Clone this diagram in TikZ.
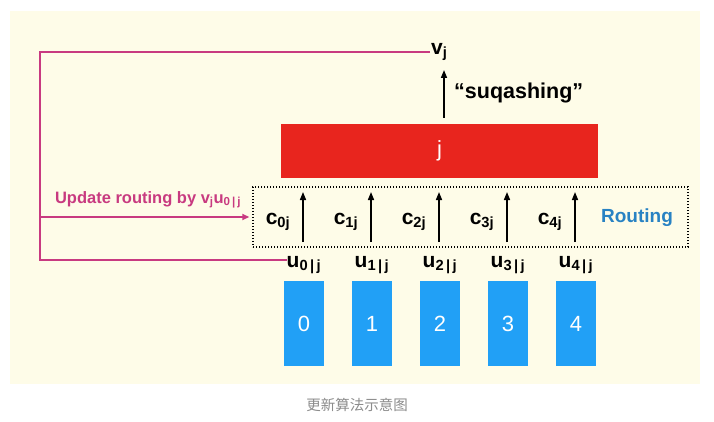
\documentclass[tikz,border=0pt]{standalone}
\usepackage{fontspec}
\setmainfont{Liberation Sans}
\newfontfamily\cjk{Noto Sans CJK SC}
\usetikzlibrary{arrows.meta}

\definecolor{cream}{RGB}{254,252,232}
\definecolor{fbpink}{RGB}{200,58,128}
\definecolor{jred}{RGB}{232,37,30}
\definecolor{capblue}{RGB}{33,160,246}
\definecolor{rtblue}{RGB}{40,130,195}

\tikzset{
  lbl/.style={font=\bfseries\fontsize{21}{21}\selectfont, inner sep=0pt},
  uparrow/.style={line width=1.5pt, -{Triangle[width=6pt,length=8pt]}},
  fb/.style={draw=fbpink, line width=1.6pt},
  capsbox/.style={fill=capblue, minimum width=40pt, minimum height=85pt,
    inner sep=0pt, text=white, font=\fontsize{22}{22}\selectfont},
}

\begin{document}
\begin{tikzpicture}[x=1pt,y=-1pt]
  \useasboundingbox (0,0) rectangle (714,422);
  \fill[white] (0,0) rectangle (714,422);
  \fill[cream] (10,11) rectangle (700,384);

  % capsule j and routing box
  \node[fill=jred, minimum width=317pt, minimum height=54pt, inner sep=0pt,
    text=white, font=\fontsize{22}{22}\selectfont] (jbox) at (439.5,151) {j};
  \node[draw, line width=1.4pt, dash pattern=on 1.4pt off 1.6pt,
    minimum width=435pt, minimum height=60pt, inner sep=0pt] (route) at (470.5,217) {};
  \node[font=\bfseries\fontsize{19}{19}\selectfont, text=rtblue, inner sep=0pt]
    (rtxt) at (637,218) {Routing};

  % lower capsules, predictions and coupling coefficients
  \foreach \i in {0,...,4} {
    \node[capsbox] (blk\i) at (304+68*\i,323.5) {\i};
    \node[lbl] (u\i) at (304+68*\i,265) {u\textsubscript{\i\,|\,j}};
    \coordinate (cb\i) at (303+68*\i,242);
    \coordinate (ct\i) at (303+68*\i,192);
    \draw[uparrow] (cb\i) -- (ct\i);
    \node[lbl] (c\i) at (278+68*\i,222) {c\textsubscript{\i j}};
  }

  % squashing
  \coordinate (sqb) at (444,118);
  \coordinate (sqt) at (444,70);
  \draw[uparrow] (sqb) -- (sqt);
  \node[font=\bfseries\fontsize{21.5}{21.5}\selectfont, anchor=west, inner sep=0pt]
    (sqtxt) at (454,93) {“suqashing”};
  \node[lbl, anchor=west, inner sep=1pt] (vj) at (430,52) {v\textsubscript{j}};

  % feedback
  \coordinate (fbtop) at (40,52);
  \coordinate (fbbot) at (40,260);
  \draw[fb] (vj.west) -- (fbtop) -- (fbbot) -- (fbbot -| u0.west);
  \draw[fb, -{Triangle[width=6pt,length=7pt]}, shorten >=3pt]
    (fbtop |- route.west) -- (route.west);
  \node[font=\bfseries\fontsize{16.5}{16.5}\selectfont, text=fbpink, inner sep=0pt]
    (updtxt) at (148,200) {Update routing by v\textsubscript{j}u\textsubscript{0\,|\,j}};

  \node[font=\cjk\fontsize{14.5}{14.5}\selectfont, text=black!45] (cap) at (357,405) {更新算法示意图};
\end{tikzpicture}
\end{document}
